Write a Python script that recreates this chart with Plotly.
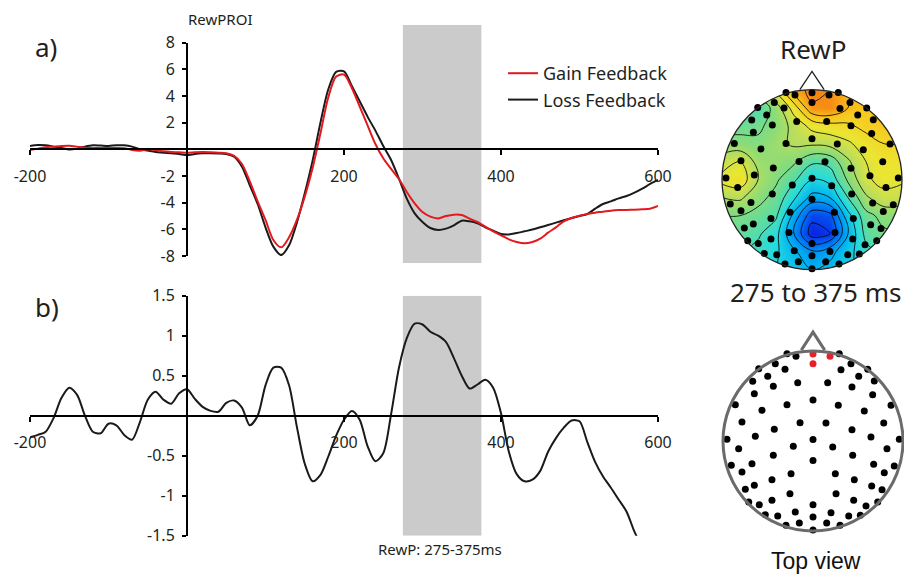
import numpy as np
import plotly.graph_objects as go

# ---------------------------------------------------------------- data
# Grand-average waveforms at the RewP ROI (µV), sampled every 10 ms
time_ms = list(range(-200, 601, 10))
gain_uv = [
    -0.05, 0.05, 0.15, 0.2, 0.25, 0.27, 0.2, 0.12, 0.1, 0.1,
    0.1, 0.1, 0.08, -0.05, -0.1, 0.0, -0.05, -0.15, -0.2, -0.22,
    -0.25, -0.22, -0.2, -0.22, -0.25, -0.3, -0.5, -1.1, -2.4, -3.9,
    -5.3, -6.8, -7.35, -6.6, -5.3, -3.55, -1.4, 1.2, 3.9, 5.45,
    5.6, 4.6, 3.2, 1.8, 0.4, -0.67, -1.47, -2.23, -3.2, -4.05,
    -4.7, -5.05, -5.18, -5.0, -4.9, -4.93, -5.2, -5.45, -5.8, -6.15,
    -6.45, -6.75, -6.95, -7.05, -6.95, -6.7, -6.25, -5.85, -5.4, -5.15,
    -4.98, -4.85, -4.75, -4.68, -4.6, -4.56, -4.55, -4.53, -4.5, -4.45,
    -4.25,
]
loss_uv = [
    0.25, 0.32, 0.3, 0.2, 0.1, -0.02, 0.05, 0.2, 0.3, 0.28,
    0.25, 0.3, 0.3, 0.2, 0.0, -0.1, -0.2, -0.25, -0.3, -0.35,
    -0.45, -0.35, -0.3, -0.3, -0.32, -0.35, -0.55, -1.3, -2.7, -4.1,
    -5.85, -7.3, -7.93, -7.2, -5.5, -3.3, -0.85, 2.0, 4.5, 5.8,
    5.85, 4.75, 3.6, 2.45, 1.4, 0.25, -0.8, -2.2, -3.7, -4.8,
    -5.45, -5.9, -6.05, -5.95, -5.7, -5.35, -5.4, -5.55, -5.85, -6.1,
    -6.35, -6.38, -6.28, -6.15, -6.02, -5.85, -5.68, -5.5, -5.32, -5.15,
    -5.0, -4.85, -4.45, -4.1, -3.9, -3.68, -3.5, -3.25, -2.95, -2.6,
    -2.3,
]

# Gain minus loss difference wave (µV)
time_diff_ms = list(range(-200, 581, 10))
diff_uv = [
    -0.27, -0.24, -0.2, -0.03, 0.22, 0.35, 0.26, 0.0, -0.2, -0.22,
    -0.1, -0.12, -0.24, -0.3, -0.08, 0.2, 0.3, 0.2, 0.15, 0.28,
    0.33, 0.21, 0.11, 0.06, 0.05, 0.16, 0.19, 0.1, -0.12, 0.0,
    0.38, 0.6, 0.6, 0.38, -0.14, -0.6, -0.82, -0.74, -0.51, -0.25,
    -0.05, 0.06, -0.05, -0.38, -0.57, -0.47, 0.02, 0.6, 0.97, 1.15,
    1.14, 1.05, 1.0, 0.92, 0.72, 0.5, 0.34, 0.39, 0.45, 0.35,
    0.03, -0.45, -0.73, -0.82, -0.8, -0.69, -0.45, -0.28, -0.15, -0.06,
    -0.07, -0.33, -0.58, -0.76, -0.9, -1.05, -1.2, -1.45, -1.65,
]

rewp_window = [275, 375]

# tick values / labels
x_tickvals = [-200, 200, 400, 600]
x_ticktext = ["-200", "200", "400", "600"]
ya_tickvals = [-8, -6, -4, -2, 2, 4, 6, 8]
ya_ticktext = ["-8", "-6", "-4", "-2", "2", "4", "6", "8"]
yb_tickvals = [-1.5, -1, -0.5, 0.5, 1, 1.5]
yb_ticktext = ["-1.5", "-1", "-0.5", "0.5", "1", "1.5"]

# Electrode montage on a unit head circle (u: left-right, v: back-front)
elec_u = [
    -0.289, -0.189, -0.419, -0.311, -0.603, -0.503, -0.670, -0.441, -0.170, -0.652,
    -0.863, -0.289, -0.567, -0.789, -0.144, -0.430, -0.956, -0.641, -0.826, -0.219,
    -0.441, -0.908, -0.678, -0.789, -0.244, -0.456, -0.752, -0.652, -0.256, -0.714,
    -0.597, -0.456, -0.530, -0.392, -0.197, -0.300, -0.152,
    0.292, 0.422, 0.311, 0.608, 0.508, 0.163, 0.681, 0.433, 0.663, 0.281,
    0.867, 0.570, 0.144, 0.786, 0.433, 0.644, 0.959, 0.219, 0.822, 0.441,
    0.674, 0.903, 0.792, 0.248, 0.459, 0.652, 0.767, 0.256, 0.452, 0.719,
    0.589, 0.200, 0.397, 0.526, 0.152, 0.300,
    0.0, 0.0, 0.0, 0.0, 0.0, 0.0,
]
elec_v = [
    0.970, 0.941, 0.859, 0.797, 0.803, 0.719, 0.663, 0.608, 0.648, 0.526,
    0.403, 0.403, 0.341, 0.211, 0.203, 0.130, 0.019, 0.052, -0.086, -0.059,
    -0.159, -0.270, -0.252, -0.344, -0.363, -0.430, -0.537, -0.492, -0.586, -0.678,
    -0.708, -0.659, -0.819, -0.833, -0.789, -0.937, -0.911,
    0.970, 0.859, 0.792, 0.797, 0.719, 0.648, 0.667, 0.600, 0.514, 0.397,
    0.397, 0.333, 0.200, 0.200, 0.126, 0.044, 0.019, -0.067, -0.086, -0.159,
    -0.259, -0.278, -0.352, -0.363, -0.430, -0.500, -0.541, -0.586, -0.659, -0.678,
    -0.722, -0.797, -0.833, -0.826, -0.911, -0.937,
    0.456, 0.017, -0.217, -0.708, -0.844, -0.989,
]
# fronto-central ROI electrodes
roi_u = [0.0, 0.0, 0.189]
roi_v = [0.967, 0.859, 0.941]

# RewP scalp distribution, 275-375 ms (colour-normalised amplitude)
grid_u = [-1.0, -0.8, -0.6, -0.4, -0.2, 0.0, 0.2, 0.4, 0.6, 0.8, 1.0]
grid_v = [-1.0, -0.8, -0.6, -0.4, -0.2, 0.0, 0.2, 0.4, 0.6, 0.8, 1.0]
rewp_topo = [
    [0.40, 0.40, 0.38, 0.36, 0.33, 0.30, 0.32, 0.35, 0.38, 0.42, 0.42],
    [0.42, 0.42, 0.40, 0.37, 0.31, 0.25, 0.28, 0.34, 0.40, 0.44, 0.44],
    [0.45, 0.45, 0.43, 0.38, 0.24, 0.09, 0.12, 0.30, 0.44, 0.47, 0.47],
    [0.48, 0.48, 0.46, 0.43, 0.28, 0.14, 0.16, 0.34, 0.46, 0.50, 0.50],
    [0.54, 0.55, 0.50, 0.46, 0.37, 0.28, 0.30, 0.42, 0.53, 0.58, 0.57],
    [0.62, 0.64, 0.54, 0.49, 0.43, 0.36, 0.38, 0.49, 0.59, 0.62, 0.61],
    [0.57, 0.60, 0.52, 0.51, 0.49, 0.43, 0.44, 0.53, 0.60, 0.63, 0.63],
    [0.50, 0.50, 0.49, 0.52, 0.55, 0.55, 0.56, 0.59, 0.63, 0.66, 0.66],
    [0.46, 0.46, 0.47, 0.50, 0.56, 0.62, 0.64, 0.65, 0.68, 0.70, 0.70],
    [0.46, 0.44, 0.42, 0.51, 0.63, 0.77, 0.78, 0.72, 0.70, 0.70, 0.70],
    [0.50, 0.50, 0.55, 0.62, 0.75, 0.80, 0.78, 0.72, 0.70, 0.70, 0.70],
]

# ---------------------------------------------------------------- layout helpers
W, H = 904, 575
TXT = "#231f20"
FONT = "Noto Sans"


def fx(p):
    return p / W


def fy(p):
    return 1 - p / H


xa_dom = [fx(30), fx(658)]
ya_dom = [fy(256), fy(42.6)]
yb_dom = [fy(535.7), fy(295.7)]
x_range = [-200, 600]
x_zero = xa_dom[0] + (0 - x_range[0]) / (x_range[1] - x_range[0]) * (xa_dom[1] - xa_dom[0])
ya_zero = (ya_dom[0] + ya_dom[1]) / 2
yb_zero = (yb_dom[0] + yb_dom[1]) / 2

fig = go.Figure()

# ---------------------------------------------------------------- panel a
fig.add_trace(go.Scatter(
    x=time_ms, y=loss_uv, mode="lines", name="Loss Feedback", legendrank=2,
    line=dict(color="#1a1a1a", width=2, shape="spline", smoothing=0.8),
    xaxis="x", yaxis="y", hoverinfo="skip"))
fig.add_trace(go.Scatter(
    x=time_ms, y=gain_uv, mode="lines", name="Gain Feedback", legendrank=1,
    line=dict(color="#e3191f", width=2, shape="spline", smoothing=0.8),
    xaxis="x", yaxis="y", hoverinfo="skip"))

# ---------------------------------------------------------------- panel b
fig.add_trace(go.Scatter(
    x=time_diff_ms, y=diff_uv, mode="lines", showlegend=False,
    line=dict(color="#1a1a1a", width=2, shape="spline", smoothing=0.8),
    xaxis="x2", yaxis="y2", hoverinfo="skip"))

# ---------------------------------------------------------------- topographies
jet = [
    [0.0, "#00008c"], [0.1, "#0a28e6"], [0.2, "#0070f5"], [0.3, "#00b4f0"],
    [0.38, "#28dcdc"], [0.45, "#64dc9c"], [0.5, "#8cdc78"], [0.56, "#bede5a"],
    [0.62, "#ebe632"], [0.7, "#f8c81e"], [0.78, "#f58c14"], [0.9, "#e63c0a"],
    [1.0, "#800000"],
]
fig.add_trace(go.Contour(
    x=grid_u, y=grid_v, z=rewp_topo, colorscale=jet, zmin=0, zmax=1,
    showscale=False, xaxis="x3", yaxis="y3", hoverinfo="skip",
    contours=dict(coloring="heatmap", showlines=True, start=0.06, end=0.96, size=0.06),
    line=dict(color="black", width=0.8, smoothing=1.1)))

# white surround so the map only shows inside the head
ang = np.linspace(0, -2 * np.pi, 361)
mask_x = [1.6, 1.6, -1.6, -1.6, 1.6, 1.6] + list(np.cos(ang)) + [1.6]
mask_y = [0, 1.6, 1.6, -1.6, -1.6, 0] + list(np.sin(ang)) + [0]
fig.add_trace(go.Scatter(
    x=mask_x, y=mask_y, mode="lines", fill="toself", fillcolor="white",
    line=dict(width=0, color="white"), showlegend=False, hoverinfo="skip",
    xaxis="x3", yaxis="y3"))
fig.add_trace(go.Scatter(
    x=elec_u + roi_u, y=elec_v + roi_v, mode="markers", showlegend=False,
    marker=dict(size=7, color="black"), xaxis="x3", yaxis="y3", hoverinfo="skip"))

# electrode layout, ROI highlighted
fig.add_trace(go.Scatter(
    x=elec_u, y=elec_v, mode="markers", showlegend=False,
    marker=dict(size=7, color="black"), xaxis="x4", yaxis="y4", hoverinfo="skip"))
fig.add_trace(go.Scatter(
    x=roi_u, y=roi_v, mode="markers", showlegend=False,
    marker=dict(size=7, color="#e8202a"), xaxis="x4", yaxis="y4", hoverinfo="skip"))

# ---------------------------------------------------------------- axes
tickfont = dict(family=FONT, size=16, color=TXT)
common_x = dict(range=x_range, domain=xa_dom, anchor="free", showline=True,
                linecolor="black", linewidth=2, ticks="outside", ticklen=5,
                tickwidth=1.5, tickcolor="black", tickvals=x_tickvals,
                ticktext=x_ticktext, tickfont=tickfont, showgrid=False,
                zeroline=False, ticklabelstandoff=7, fixedrange=True,
                automargin=False)
common_y = dict(anchor="free", position=x_zero, showline=True, linecolor="black",
                linewidth=2, ticks="outside", ticklen=4, tickwidth=1.5,
                tickcolor="black", tickfont=tickfont, showgrid=False,
                zeroline=False, ticklabelstandoff=4, fixedrange=True,
                automargin=False)

topo_x = dict(visible=False, fixedrange=True, automargin=False)
topo_y = dict(visible=False, fixedrange=True, automargin=False)

fig.update_layout(
    template="none",
    xaxis=dict(common_x, position=ya_zero),
    yaxis=dict(common_y, domain=ya_dom, range=[-8, 8],
               tickvals=ya_tickvals, ticktext=ya_ticktext),
    xaxis2=dict(common_x, position=yb_zero),
    yaxis2=dict(common_y, domain=yb_dom, range=[-1.5, 1.5],
                tickvals=yb_tickvals, ticktext=yb_ticktext),
    xaxis3=dict(topo_x, domain=[fx(716), fx(904)], range=[(716 - 812) / 90, (904 - 812) / 90], anchor="y3"),
    yaxis3=dict(topo_y, domain=[fy(275), fy(62)], range=[(179.7 - 275) / 90, (179.7 - 62) / 90], anchor="x3"),
    xaxis4=dict(topo_x, domain=[fx(716), fx(904)], range=[(716 - 813) / 90, (904 - 813) / 90], anchor="y4"),
    yaxis4=dict(topo_y, domain=[fy(545), fy(322)], range=[(441 - 545) / 90, (441 - 322) / 90], anchor="x4"),
)

# ---------------------------------------------------------------- shapes
shapes = [
    dict(type="rect", xref="x", yref="paper", x0=rewp_window[0], x1=rewp_window[1],
         y0=fy(263), y1=fy(25), fillcolor="#cbcbcb", line=dict(width=0), layer="below"),
    dict(type="rect", xref="x2", yref="y2", x0=rewp_window[0], x1=rewp_window[1],
         y0=-1.5, y1=1.5, fillcolor="#cbcbcb", line=dict(width=0), layer="below"),
    # head outlines and noses
    dict(type="circle", xref="x3", yref="y3", x0=-1, x1=1, y0=-1, y1=1,
         line=dict(color="#222222", width=1.3), layer="above"),
    dict(type="path", xref="x3", yref="y3", path="M -0.135,1.0 L 0,1.204 L 0.135,1.0",
         line=dict(color="#222222", width=1.3), layer="above"),
    dict(type="circle", xref="x4", yref="y4", x0=-1, x1=1, y0=-1, y1=1,
         line=dict(color="#6b6b6b", width=3), layer="above"),
    dict(type="path", xref="x4", yref="y4", path="M -0.13,1.01 L 0,1.21 L 0.13,1.01",
         line=dict(color="#6b6b6b", width=3), layer="above"),
]

annotations = [
    dict(text="a)", x=fx(33), y=fy(47), xanchor="left", yanchor="middle",
         font=dict(family=FONT, size=26, color=TXT)),
    dict(text="b)", x=fx(33), y=fy(307), xanchor="left", yanchor="middle",
         font=dict(family=FONT, size=26, color=TXT)),
    dict(text="RewPROI", x=fx(186), y=fy(19), xanchor="left", yanchor="middle",
         font=dict(family=FONT, size=15, color=TXT)),
    dict(text="RewP: 275-375ms", x=fx(440), y=fy(549), xanchor="center", yanchor="middle",
         font=dict(family=FONT, size=15, color=TXT)),
    dict(text="RewP", x=fx(813), y=fy(49), xanchor="center", yanchor="middle",
         font=dict(family=FONT, size=26, color=TXT)),
    dict(text="275 to 375 ms", x=fx(815), y=fy(292), xanchor="center", yanchor="middle",
         font=dict(family=FONT, size=26, color=TXT)),
    dict(text="Top view", x=fx(816), y=fy(561), xanchor="center", yanchor="middle",
         font=dict(family="Liberation Sans", size=23, color="#111111")),
]
for a in annotations:
    a.update(xref="paper", yref="paper", showarrow=False)

fig.update_layout(
    width=W, height=H, margin=dict(l=0, r=0, t=0, b=0, pad=0),
    paper_bgcolor="white", plot_bgcolor="rgba(0,0,0,0)",
    shapes=shapes, annotations=annotations,
    showlegend=True,
    legend=dict(x=fx(503), y=fy(55), xanchor="left", yanchor="top",
                bgcolor="rgba(0,0,0,0)", itemwidth=30, tracegroupgap=0,
                font=dict(family=FONT, size=18, color=TXT)),
)

fig.write_html("out.html")
